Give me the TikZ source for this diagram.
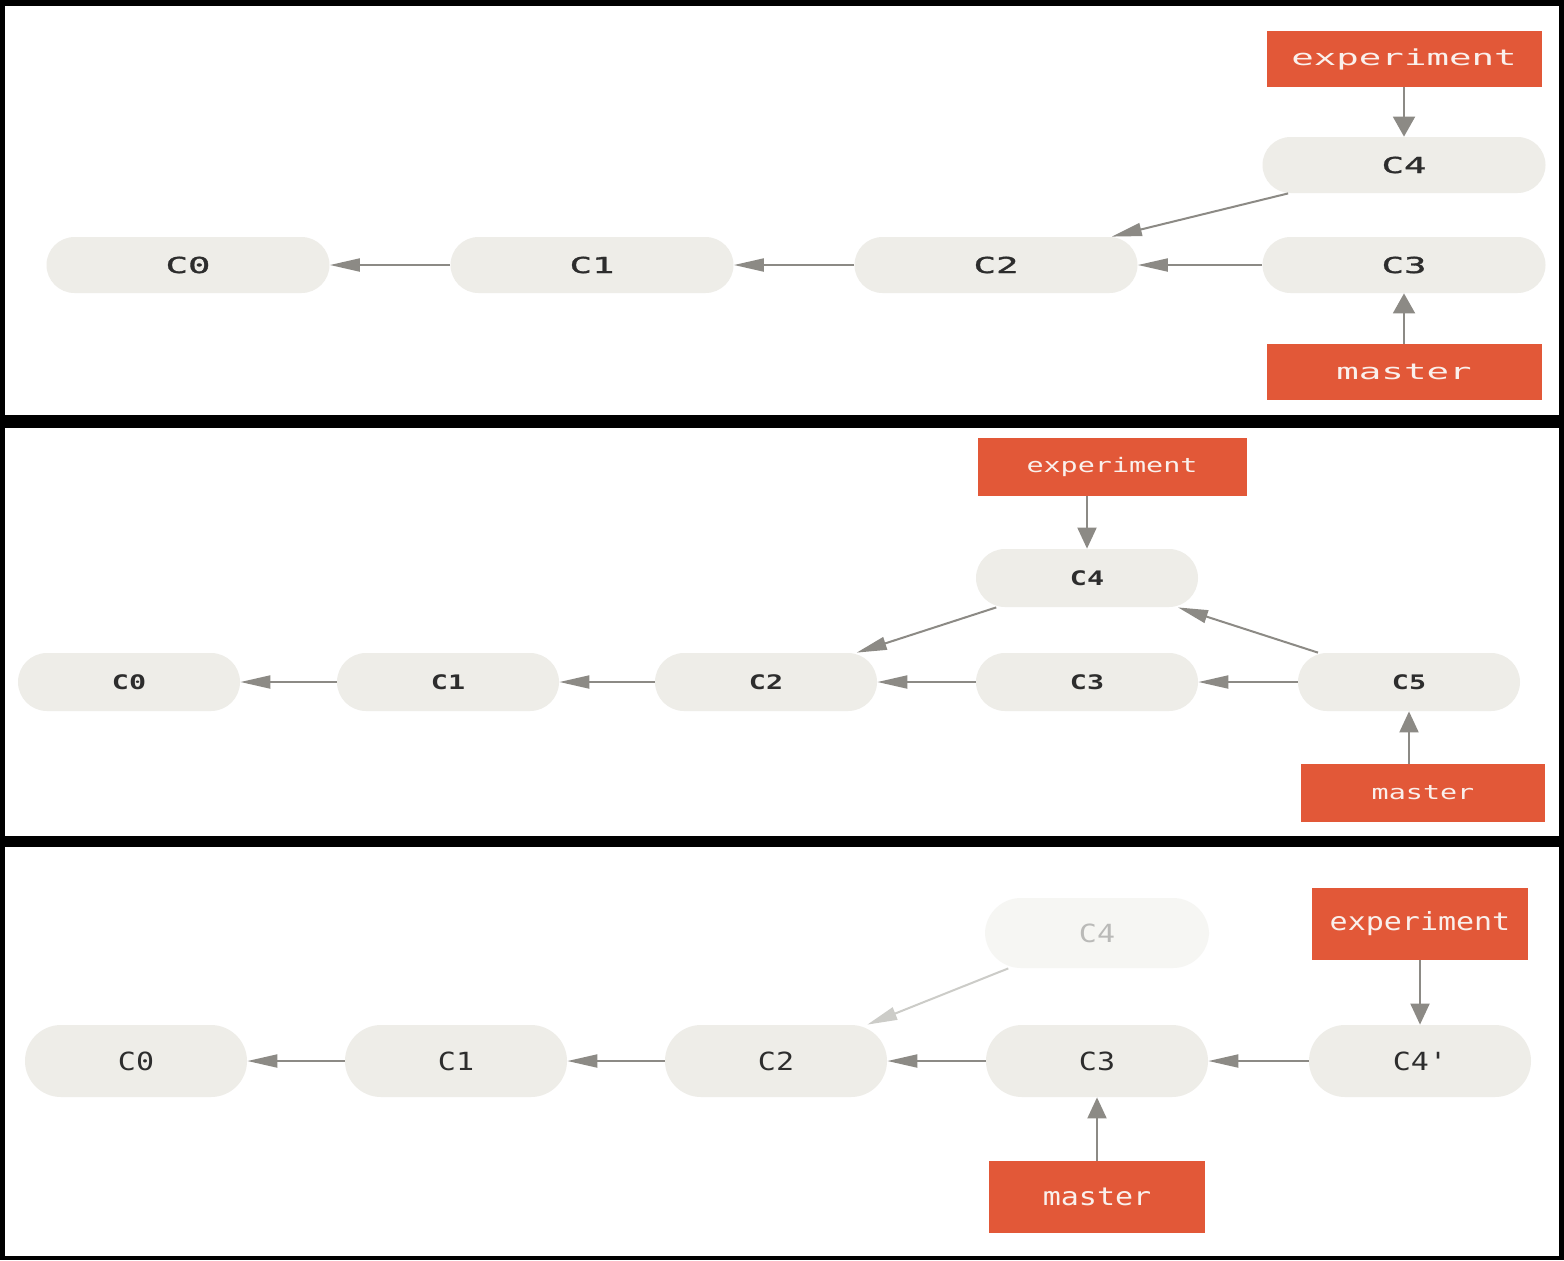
\documentclass[tikz,border=0pt]{standalone}
\usepackage{fontspec}
\usepackage{xcolor}
\usetikzlibrary{arrows.meta}
\definecolor{cfill}{RGB}{238,237,232}
\definecolor{cfill0}{RGB}{246,246,243}
\definecolor{tgrey}{RGB}{45,45,45}
\definecolor{tgrey0}{RGB}{186,186,184}
\definecolor{bred}{RGB}{226,88,56}
\definecolor{bwhite}{RGB}{250,240,236}
\definecolor{lgrey}{RGB}{140,138,133}
\definecolor{lgrey0}{RGB}{204,204,200}
\newfontfamily\gitA[FakeStretch=1.7,BoldFont={DejaVu Sans Mono},BoldFeatures={FakeBold=1.5}]{DejaVu Sans Mono}
\newfontfamily\gitB[FakeStretch=1.42]{DejaVu Sans Mono}
\newfontfamily\gitC[FakeStretch=1.2]{DejaVu Sans Mono}
\tikzset{
  commit/.style={fill=cfill,text=tgrey,inner sep=0pt},
  oldcommit/.style={commit,fill=cfill0,text=tgrey0},
  branch/.style={fill=bred,text=bwhite,inner sep=0pt},
  link/.style={draw=lgrey,line width=1pt},
  hlink/.style={link,-{Triangle[length=15pt,width=6.5pt]}},
  vlink/.style={link,-{Triangle[length=10.5pt,width=9.5pt]}}
}
\newcommand{\pill}[3]{\node[commit] (#1) at (#2) {#3};}
\newcommand{\brbox}[3]{\node[branch] (#1) at (#2) {#3};}

\begin{document}
\begin{tikzpicture}[x=0.5pt,y=-0.5pt]
  \useasboundingbox (0,0) rectangle (1564,1260);
  \fill[black] (0,0) rectangle (1564,1260);
  \fill[white] (5,6) rectangle (1559,415);
  \fill[white] (5,428) rectangle (1559,836);
  \fill[white] (5,847) rectangle (1559,1256);

  \begin{scope}[commit/.append style={minimum width=141.5pt,minimum height=28pt,rounded corners=14pt,
      font=\gitA\bfseries\fontsize{11}{13}\selectfont},
    branch/.append style={minimum width=137.5pt,minimum height=28pt,
      font=\gitA\fontsize{11}{13}\selectfont},
    vlink/.append style={-{Triangle[length=10pt,width=11pt]}}]
    \pill{a0}{188,265}{C0}
    \pill{a1}{592,265}{C1}
    \pill{a2}{996,265}{C2}
    \pill{a3}{1404,265}{C3}
    \pill{a4}{1404,165}{C4}
    \brbox{ea}{1404,59}{experiment}
    \brbox{ma}{1404,372}{master}
    \draw[hlink] (a1) -- (a0);
    \draw[hlink] (a2) -- (a1);
    \draw[hlink] (a3) -- (a2);
    \draw[hlink] (a4) -- (a2);
    \draw[vlink] (ea) -- (a4);
    \draw[vlink] (ma) -- (a3);
  \end{scope}

  \begin{scope}[commit/.append style={minimum width=111pt,minimum height=29pt,rounded corners=14.5pt,
      font=\gitB\bfseries\fontsize{10}{12}\selectfont},
    branch/.append style={minimum height=29pt,font=\gitB\fontsize{10}{12}\selectfont}]
    \pill{b0}{129,682}{C0}
    \pill{b1}{448,682}{C1}
    \pill{b2}{766,682}{C2}
    \pill{b3}{1087,682}{C3}
    \pill{b4}{1087,578}{C4}
    \pill{b5}{1409,682}{C5}
    \node[branch,minimum width=134.5pt] (eb) at (1112,467) {experiment};
    \node[branch,minimum width=122pt] (mb) at (1423,793) {master};
    \draw[hlink] (b1) -- (b0);
    \draw[hlink] (b2) -- (b1);
    \draw[hlink] (b3) -- (b2);
    \draw[hlink] (b4) -- (b2);
    \draw[hlink] (b5) -- (b3);
    \draw[hlink] (b5) -- (b4);
    \draw[vlink] (b4 |- eb.south) -- (b4);
    \draw[vlink] (b5 |- mb.north) -- (b5);
  \end{scope}

  \begin{scope}[commit/.append style={minimum width=111pt,minimum height=36pt,rounded corners=18pt,
      font=\gitC\fontsize{12.5}{14}\selectfont},
    branch/.append style={minimum width=108pt,minimum height=36pt,
      font=\gitC\fontsize{12.5}{14}\selectfont}]
    \pill{c0}{136,1061}{C0}
    \pill{c1}{456,1061}{C1}
    \pill{c2}{776,1061}{C2}
    \pill{c3}{1097,1061}{C3}
    \node[oldcommit,minimum width=112pt,minimum height=35pt] (c4) at (1097,933) {C4};
    \pill{c4p}{1420,1061}{C4'}
    \brbox{ec}{1420,924}{experiment}
    \brbox{mc}{1097,1197}{master}
    \draw[hlink] (c1) -- (c0);
    \draw[hlink] (c2) -- (c1);
    \draw[hlink] (c3) -- (c2);
    \draw[hlink,draw=lgrey0] (c4) -- (c2);
    \draw[hlink] (c4p) -- (c3);
    \draw[vlink] (ec) -- (c4p);
    \draw[vlink] (mc) -- (c3);
  \end{scope}
\end{tikzpicture}
\end{document}
